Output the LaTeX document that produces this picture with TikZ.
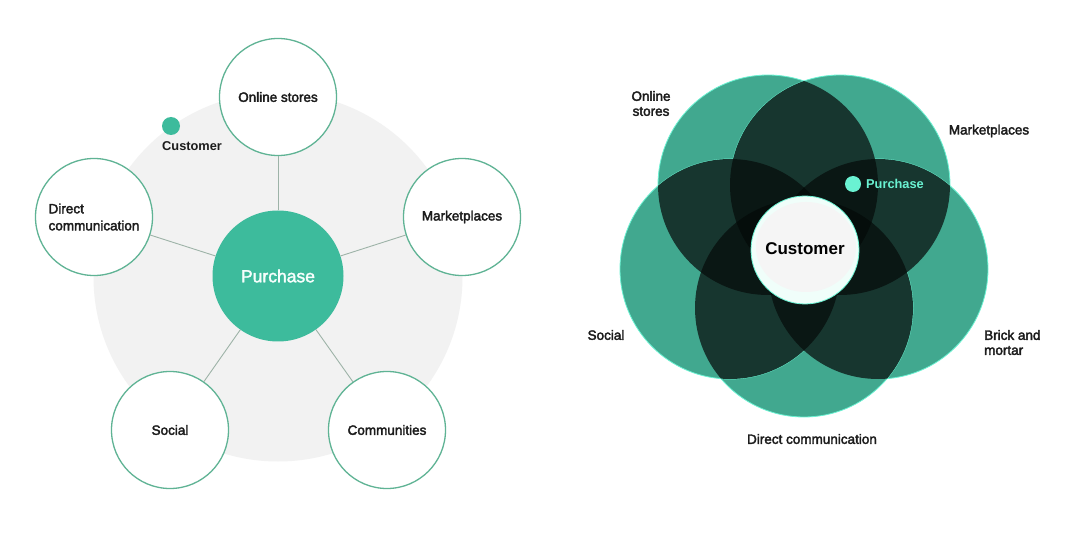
\documentclass[tikz,border=0pt]{standalone}
\usepackage{fontspec}
\setmainfont{Liberation Sans}
\newcommand\fb[1]{\special{pdf:literal direct 2 Tr 0.35 w}#1\special{pdf:literal direct 0 Tr}}
\newcommand\medf{}
\usetikzlibrary{positioning}
\definecolor{grn}{HTML}{41A88F}
\definecolor{dtwoc}{HTML}{17362F}
\definecolor{dthreec}{HTML}{0A1714}
\definecolor{dfourc}{HTML}{050D0B}
\definecolor{mint}{HTML}{6AF2D2}
\definecolor{purg}{HTML}{3DBB9C}
\definecolor{ringg}{HTML}{5FB394}
\definecolor{lineg}{HTML}{9DB3A8}
\definecolor{bggray}{HTML}{F2F2F2}
\definecolor{txt}{HTML}{1C1C1C}
\def\cA{(768,185) circle[radius=110pt]}
\def\cB{(840,185) circle[radius=110pt]}
\def\cC{(878,269) circle[radius=110pt]}
\def\cD{(804,308) circle[radius=109pt]}
\def\cE{(730,269) circle[radius=110pt]}
\newcommand\ovtwo[2]{\begin{scope}\clip #1;\clip #2;\fill[dtwoc] (590,50) rectangle (1000,430);\end{scope}}
\newcommand\ovthree[3]{\begin{scope}\clip #1;\clip #2;\clip #3;\fill[dthreec] (590,50) rectangle (1000,430);\end{scope}}
\newcommand\ovfour[4]{\begin{scope}\clip #1;\clip #2;\clip #3;\clip #4;\fill[dfourc] (590,50) rectangle (1000,430);\end{scope}}
\tikzset{
  outer/.style={circle, draw=ringg, line width=1.3pt, fill=white, minimum size=117pt, inner sep=0pt, text=txt, font=\fontsize{13.5}{17}\selectfont, align=left},
  conn/.style={draw=lineg, line width=0.9pt},
  lbl/.style={text=txt, font=\fontsize{13.5}{15}\selectfont, inner sep=0pt},
}
\begin{document}
\begin{tikzpicture}[x=1pt,y=-1pt]
\useasboundingbox (0,0) rectangle (1080,540);
\fill[white] (0,0) rectangle (1080,540);
% ---------- left diagram ----------
\fill[bggray] (278,277) circle[radius=184.5pt];
\node[circle, fill=purg, minimum size=131pt, inner sep=0pt, text=white!94!mint, font=\fontsize{17.5}{20}\selectfont] (pur) at (278,276) {\fb{Purchase}};
\node[outer] (os) at (278,97) {\fb{Online stores}};
\node[outer] (mp) at (462,217) {\fb{Marketplaces}};
\node[outer] (dc) at (94,217) {\fb{Direct}\\\fb{communication}};
\node[outer] (so) at (170,430) {\fb{Social}};
\node[outer] (co) at (387,430) {\fb{Communities}};
\foreach \n in {os,mp,dc,so,co} \draw[conn] (pur) -- (\n);
\node[circle, fill=purg, minimum size=18pt, inner sep=0pt] (cdot) at (171,126) {};
\node[text=txt, font=\bfseries\fontsize{12.8}{15}\selectfont, anchor=west, inner sep=0pt] (clab) at (162,146) {Customer};
% ---------- right diagram ----------
\foreach \c in {\cA,\cB,\cC,\cD,\cE} \filldraw[fill=grn, draw=mint, line width=0.8pt] \c;
\ovtwo{\cA}{\cB}\ovtwo{\cA}{\cC}\ovtwo{\cA}{\cD}\ovtwo{\cA}{\cE}\ovtwo{\cB}{\cC}
\ovtwo{\cB}{\cD}\ovtwo{\cB}{\cE}\ovtwo{\cC}{\cD}\ovtwo{\cC}{\cE}\ovtwo{\cD}{\cE}
\ovthree{\cA}{\cB}{\cC}\ovthree{\cA}{\cB}{\cD}\ovthree{\cA}{\cB}{\cE}\ovthree{\cA}{\cC}{\cD}\ovthree{\cA}{\cC}{\cE}
\ovthree{\cA}{\cD}{\cE}\ovthree{\cB}{\cC}{\cD}\ovthree{\cB}{\cC}{\cE}\ovthree{\cB}{\cD}{\cE}\ovthree{\cC}{\cD}{\cE}
\ovfour{\cA}{\cB}{\cC}{\cD}\ovfour{\cA}{\cB}{\cC}{\cE}\ovfour{\cA}{\cB}{\cD}{\cE}\ovfour{\cA}{\cC}{\cD}{\cE}\ovfour{\cB}{\cC}{\cD}{\cE}
\node[circle, fill=white!90!mint, draw=mint, line width=0.8pt, minimum size=108pt, inner sep=0pt] (custc) at (805,250) {};
\fill[bggray!80!white] (806,247) ellipse[x radius=50pt, y radius=45pt];
\node[text=black, font=\bfseries\fontsize{17}{20}\selectfont, inner sep=0pt] (custl) at (805,249) {Customer};
\node[circle, fill=mint, minimum size=16pt, inner sep=0pt] (pdot) at (853,184) {};
\node[text=mint, font=\bfseries\fontsize{12.8}{15}\selectfont, anchor=west, inner sep=0pt] (plab) at (866,184) {Purchase};
\node[lbl, align=center] (r1) at (651,103.5) {\fb{Online}\\\fb{stores}};
\node[lbl] (r2) at (989,131) {\fb{Marketplaces}};
\node[lbl] (r3) at (606,335) {\fb{Social}};
\node[lbl, align=left, anchor=west] (r4) at (984,342.5) {\fb{Brick and}\\\fb{mortar}};
\node[lbl] (r5) at (812,439) {\fb{Direct communication}};
\end{tikzpicture}
\end{document}
